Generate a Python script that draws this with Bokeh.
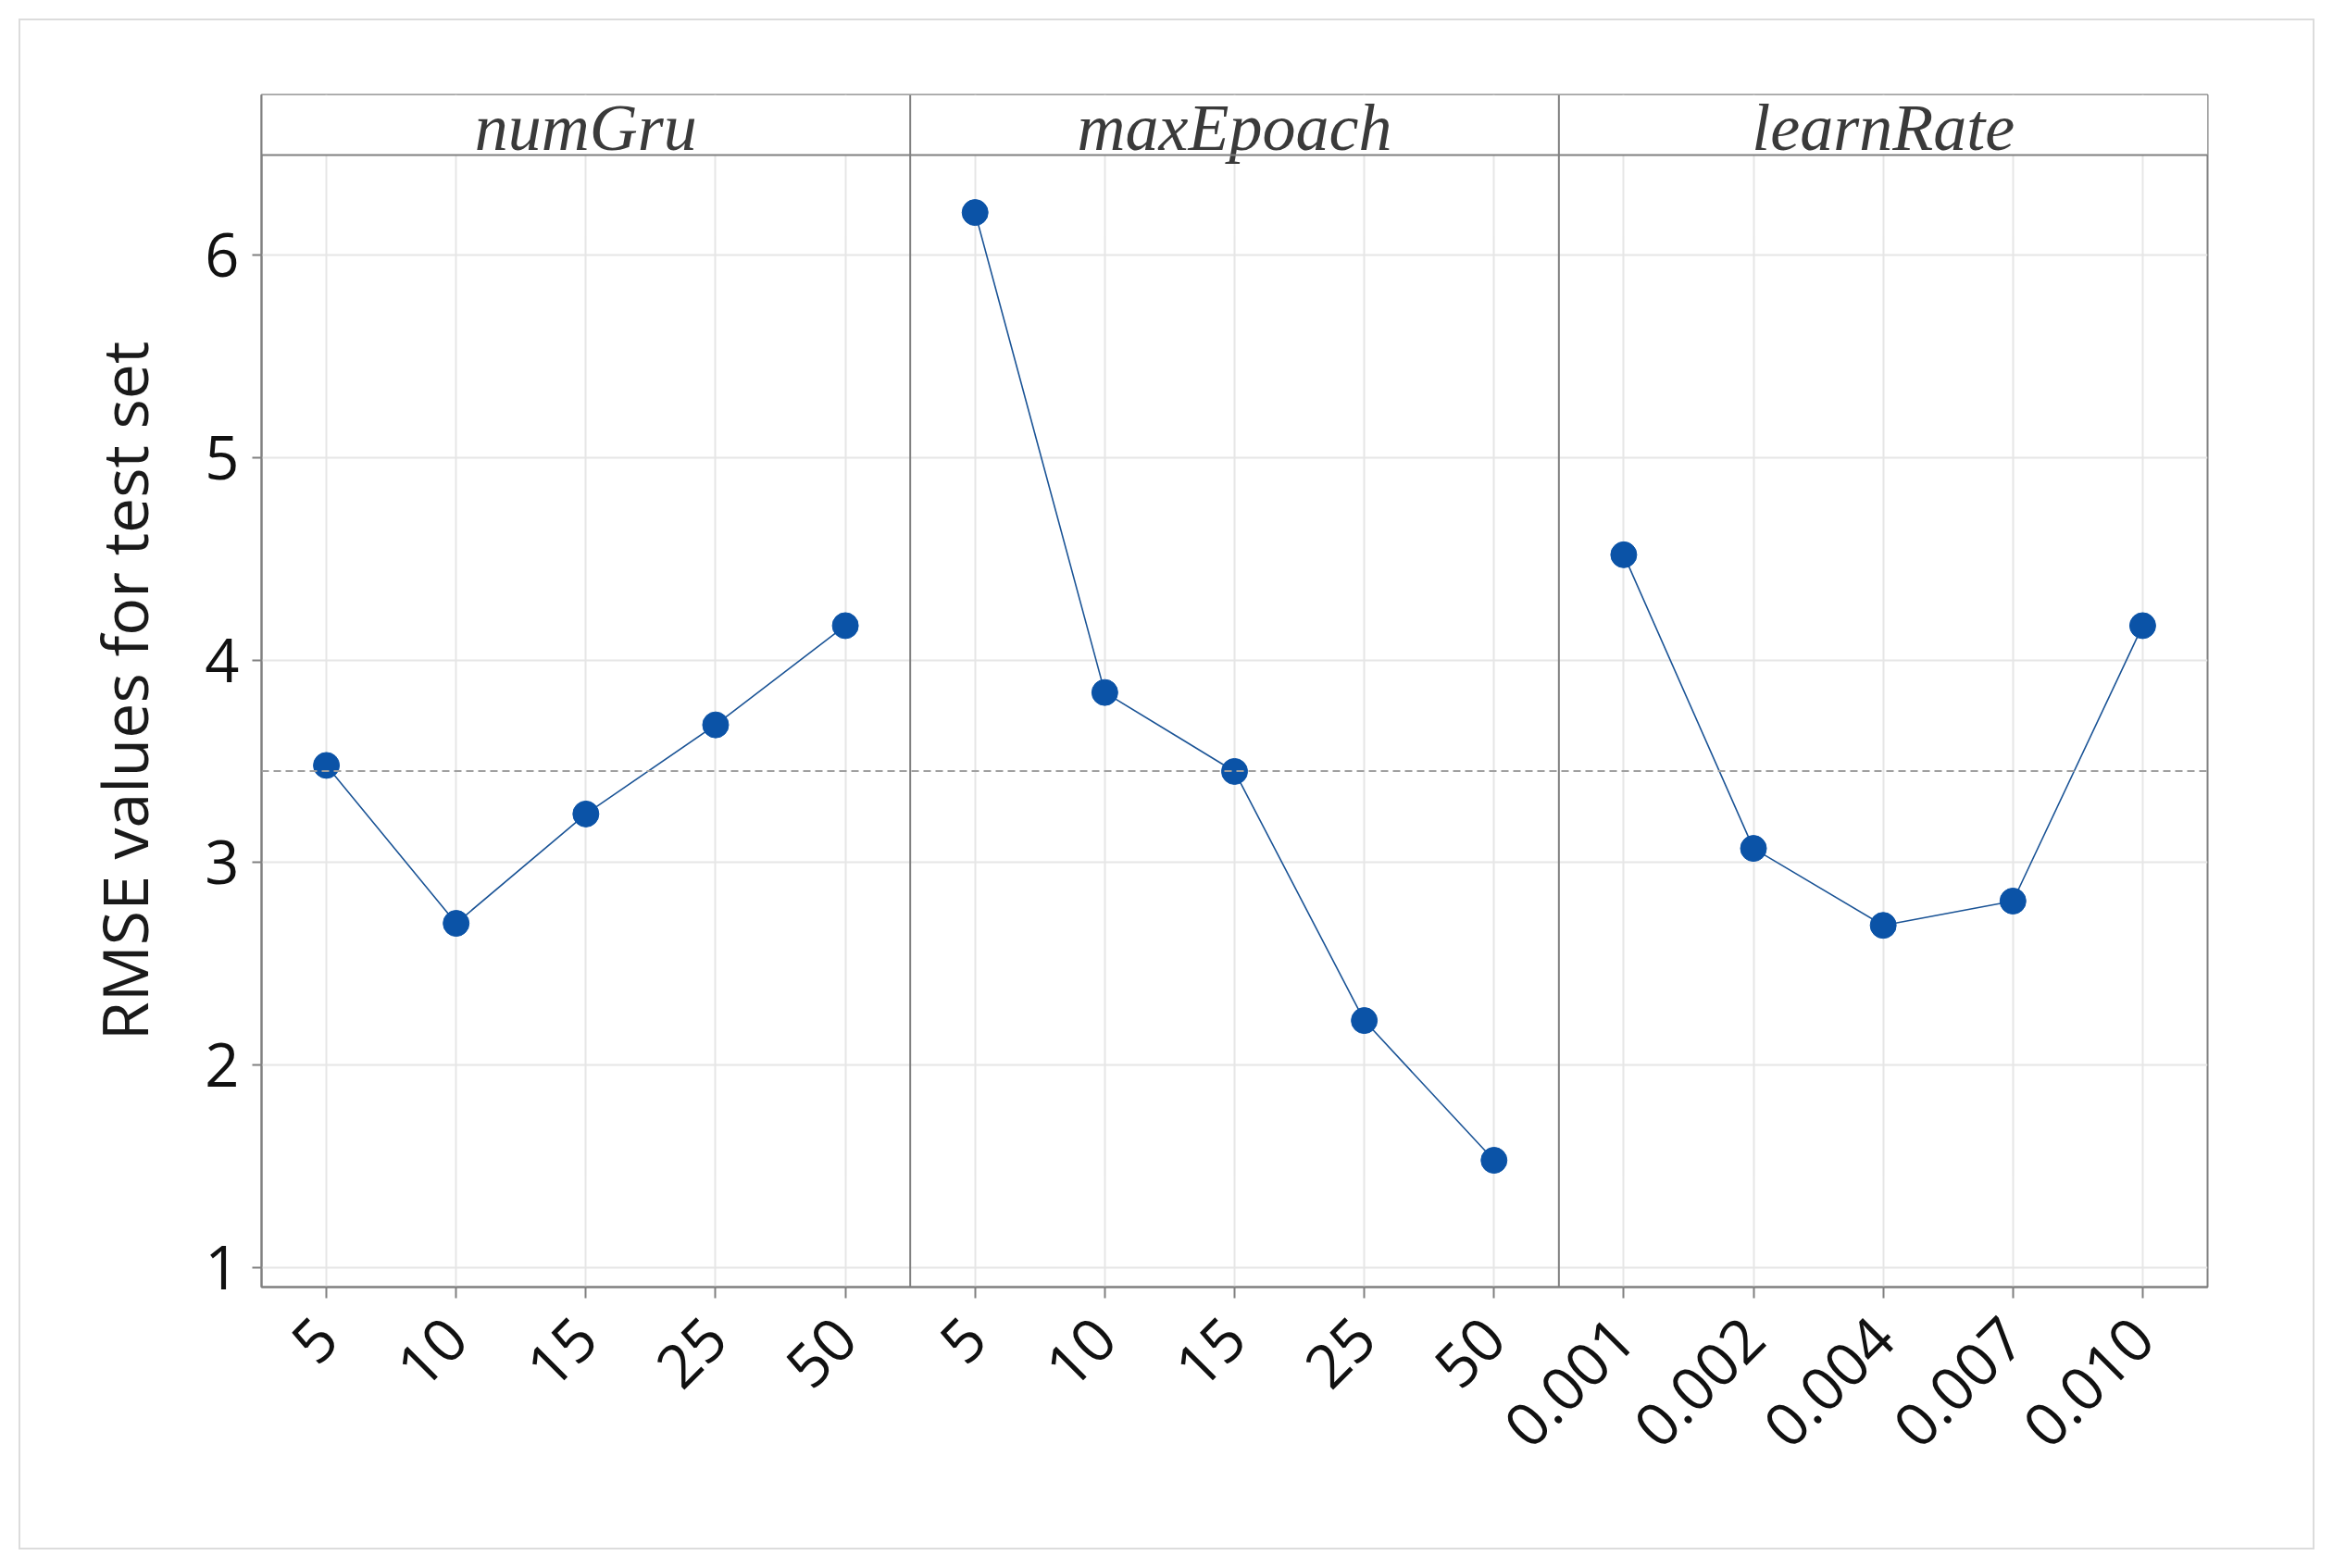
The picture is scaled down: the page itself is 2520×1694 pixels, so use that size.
import numpy as np
from bokeh.plotting import figure
from bokeh.layouts import column
from bokeh.models import FactorRange, Range1d, FixedTicker, Span, CustomJSTickFormatter
from bokeh.core.properties import value
from bokeh.embed import file_html
from bokeh.resources import INLINE

# ---------------- data ----------------
panel_names = ["numGru", "maxEpoach", "learnRate"]

numGru_levels = ["5", "10", "15", "25", "50"]
numGru_rmse = [3.48, 2.70, 3.24, 3.68, 4.17]

maxEpoach_levels = ["5", "10", "15", "25", "50"]
maxEpoach_rmse = [6.21, 3.84, 3.45, 2.22, 1.53]

learnRate_levels = ["0.001", "0.002", "0.004", "0.007", "0.010"]
learnRate_rmse = [4.52, 3.07, 2.69, 2.81, 4.17]

y_ticks = [1, 2, 3, 4, 5, 6]
y_label = "RMSE values for test set"

panels = [
    ("numGru", numGru_levels, numGru_rmse),
    ("maxEpoach", maxEpoach_levels, maxEpoach_rmse),
    ("learnRate", learnRate_levels, learnRate_rmse),
]

# ---------------- style ----------------
Y_START, Y_HEADER, Y_END = 0.904, 6.494, 6.791
FRAME_COLOR = "#808080"
GRID_COLOR = "#e6e6e6"
LINE_COLOR = "#1b5496"
MARK_COLOR = "#0b53a7"

factors = [f"{name}|{lvl}" for name, lvls, _ in panels for lvl in lvls]

p = figure(
    x_range=FactorRange(factors=factors, range_padding=0, factor_padding=0),
    y_range=Range1d(Y_START, Y_END),
    width=2476, height=1650,
    min_border_left=260, min_border_right=114,
    min_border_top=80, min_border_bottom=282,
    output_backend="svg", toolbar_location=None,
    background_fill_color="white", border_fill_color="white",
)

p.outline_line_color = FRAME_COLOR
p.outline_line_width = 2

# grids
p.xgrid.grid_line_color = GRID_COLOR
p.xgrid.grid_line_width = 2
p.ygrid.grid_line_color = GRID_COLOR
p.ygrid.grid_line_width = 2
p.yaxis.ticker = FixedTicker(ticks=y_ticks)

# axes
for ax in (p.xaxis[0], p.yaxis[0]):
    ax.axis_line_color = FRAME_COLOR
    ax.axis_line_width = 2
    ax.major_tick_line_color = FRAME_COLOR
    ax.major_tick_line_width = 2
    ax.major_tick_in = 0
    ax.minor_tick_line_color = None
    ax.major_label_text_font = "Open Sans"
    ax.major_label_text_font_size = "65px"
    ax.major_label_text_color = "#111111"

p.yaxis.major_tick_out = 10
p.yaxis.major_label_standoff = 14
p.yaxis.axis_label = y_label
p.yaxis.axis_label_text_font = "Open Sans"
p.yaxis.axis_label_text_font_size = "68px"
p.yaxis.axis_label_text_font_style = "normal"
p.yaxis.axis_label_text_color = "#1a1a1a"
p.yaxis.axis_label_standoff = 38

p.xaxis.major_tick_out = 12
p.xaxis.major_label_standoff = 32
p.xaxis.major_label_orientation = np.pi / 4
p.xaxis.formatter = CustomJSTickFormatter(code="return tick.split('|')[1];")

# header band (covers grid) and panel dividers
total = len(factors)
p.quad(left=[0], right=[total], bottom=[Y_HEADER], top=[Y_END],
       fill_color="white", line_color=None)
p.add_layout(Span(location=Y_HEADER, dimension="width",
                  line_color=FRAME_COLOR, line_width=2))
pos = 0
for name, lvls, vals in panels[:-1]:
    pos += len(lvls)
    p.add_layout(Span(location=pos, dimension="height",
                      line_color=FRAME_COLOR, line_width=2))

# overall mean line
all_vals = np.concatenate([np.array(v) for _, _, v in panels])
p.add_layout(Span(location=float(all_vals.mean()), dimension="width",
                  line_color="#a0a0a0", line_width=2, line_dash="8 5"))

# series
for name, lvls, vals in panels:
    xs = [f"{name}|{l}" for l in lvls]
    p.line(x=xs, y=vals, line_color=LINE_COLOR, line_width=1.6)
    p.scatter(x=xs, y=vals, size=28, marker="circle",
              fill_color=MARK_COLOR, line_color=MARK_COLOR)
    p.text(x=[f"{name}|{lvls[len(lvls) // 2]}"], y=[Y_HEADER + 0.137], text=[name],
           text_font=value("Liberation Serif"), text_font_style="italic",
           text_font_size="72px", text_align="center",
           text_baseline="middle", text_color="#3a3a3a")

# light outer frame around the whole picture
layout = column(p, margin=(20, 0, 0, 20),
                styles={"border": "2px solid #dcdcdc"})

open("out.html", "w").write(file_html(layout, INLINE))
